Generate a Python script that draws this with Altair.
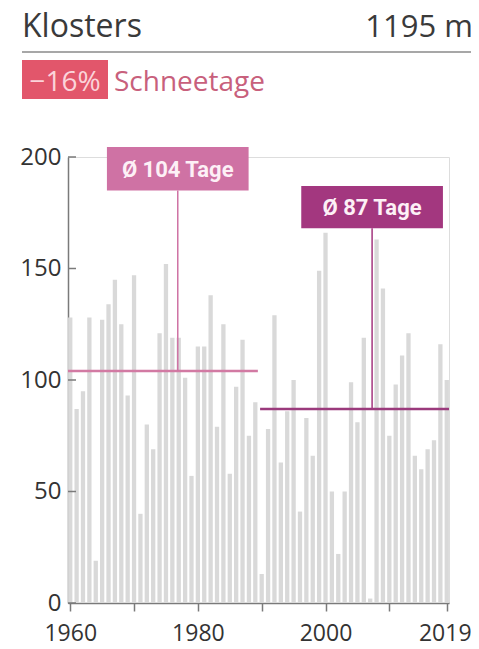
import altair as alt
import pandas as pd

# ---- data ----
years = list(range(1960, 2020))
snow_days = [128, 87, 95, 128, 19, 127, 134, 145, 125, 93,
             147, 40, 80, 69, 121, 152, 119, 119, 101, 57,
             115, 115, 138, 79, 125, 58, 97, 118, 75, 90,
             13, 78, 129, 63, 86, 100, 41, 83, 66, 149,
             166, 50, 22, 50, 99, 81, 119, 2, 163, 141,
             75, 98, 111, 121, 66, 60, 69, 73, 116, 100]

period_start = [1959.65, 1989.75]
period_end = [1989.4, 2019.35]
period_mean = [104, 87]
period_label = ["Ø 104 Tage", "Ø 87 Tage"]
label_year = [1976.85, 2007.3]
label_half_width = [11.1, 11.1]
box_bottom = [185.0, 168.0]
box_top = [204.5, 187.0]
period_color = ["#cf72a4", "#a3377f"]
line_color = ["#d27aa3", "#9a3a7c"]

y_ticks = [0, 50, 100, 150, 200]
x_ticks = [1960, 1970, 1980, 1990, 2000, 2010, 2019]
x_labels = [1960, 1980, 2000, 2019]

title_left = "Klosters"
title_right = "1195 m"
change_text = "−16%"
change_label = "Schneetage"

# ---- tables ----
bars = pd.DataFrame({"year": years, "days": snow_days})
periods = pd.DataFrame({
    "start": period_start, "end": period_end, "mean": period_mean,
    "label": period_label, "ly": label_year,
    "bl": [c - h for c, h in zip(label_year, label_half_width)],
    "br": [c + h for c, h in zip(label_year, label_half_width)],
    "bb": box_bottom, "bt": box_top,
    "bm": [(b + t) / 2 for b, t in zip(box_bottom, box_top)],
    "color": period_color, "lcolor": line_color,
})
ticks_df = pd.DataFrame({"v": y_ticks})
one = pd.DataFrame({"a": [0]})

FONT = "Open Sans"
xscale = alt.Scale(domain=[1959.65, 2019.35], nice=False, zero=False, padding=0)
yscale = alt.Scale(domain=[0, 200], nice=False, padding=0)

labels_expr = "indexof(" + str(x_labels) + ", datum.value) >= 0 ? datum.label : ''"

bar_layer = alt.Chart(bars).mark_bar(color="#d9d9d9", size=4.3).encode(
    x=alt.X("year:Q", scale=xscale,
            axis=alt.Axis(values=x_ticks, format="d", labelExpr=labels_expr,
                          title=None, grid=False, tickSize=8, tickWidth=1.5,
                          tickColor="#7a7a7a", domainColor="#7a7a7a", domainWidth=1.5,
                          labelFontSize=23, labelColor="#333333", labelPadding=11,
                          labelFont=FONT, labelFlush=False,
                          labelOffset={"condition": {"test": "datum.value == 2019", "value": -2},
                                       "value": 0})),
    y=alt.Y("days:Q", scale=yscale,
            axis=alt.Axis(values=y_ticks, title=None, grid=False, tickSize=0,
                          domainColor="#7a7a7a", domainWidth=1.5,
                          labelFontSize=24, labelColor="#333333", labelPadding=7,
                          labelFont=FONT)),
)

ytick_layer = alt.Chart(ticks_df).mark_rule(color="#7a7a7a", strokeWidth=1.5).encode(
    y=alt.Y("v:Q", scale=yscale), x=alt.value(0), x2=alt.value(8)
)

mean_layer = alt.Chart(periods).mark_rule(strokeWidth=2.5).encode(
    x=alt.X("start:Q", scale=xscale), x2="end:Q",
    y=alt.Y("mean:Q", scale=yscale),
    color=alt.Color("lcolor:N", scale=None),
)

connector_layer = alt.Chart(periods).mark_rule(strokeWidth=1.5).encode(
    x=alt.X("ly:Q", scale=xscale),
    y=alt.Y("bb:Q", scale=yscale), y2="mean:Q",
    color=alt.Color("color:N", scale=None),
)

box_layer = alt.Chart(periods).mark_rect().encode(
    x=alt.X("bl:Q", scale=xscale), x2="br:Q",
    y=alt.Y("bb:Q", scale=yscale), y2="bt:Q",
    color=alt.Color("color:N", scale=None),
)

box_text = alt.Chart(periods).mark_text(
    font="Roboto", fontWeight="bold", fontSize=22,
    color="#fdf0f6", align="center", baseline="middle", dy=1
).encode(
    x=alt.X("ly:Q", scale=xscale), y=alt.Y("bm:Q", scale=yscale), text="label:N"
)

# header
head_left = alt.Chart(one).mark_text(font=FONT, fontSize=32, color="#3a3a3a",
                                      align="left", baseline="alphabetic").encode(
    x=alt.value(-46), y=alt.value(-120), text=alt.value(title_left))
head_right = alt.Chart(one).mark_text(font=FONT, fontSize=31, color="#3a3a3a",
                                       align="right", baseline="alphabetic").encode(
    x=alt.value(405), y=alt.value(-120), text=alt.value(title_right))
head_rule = alt.Chart(one).mark_rule(color="#8a8a8a", strokeWidth=1.5).encode(
    x=alt.value(-46), x2=alt.value(405), y=alt.value(-105))
change_box = alt.Chart(one).mark_rect(color="#e2566b").encode(
    x=alt.value(-46), x2=alt.value(40), y=alt.value(-97), y2=alt.value(-58))
change_txt = alt.Chart(one).mark_text(font=FONT, fontSize=28, color="#fbd3da",
                                       align="center", baseline="alphabetic").encode(
    x=alt.value(-3), y=alt.value(-66), text=alt.value(change_text))
change_lbl = alt.Chart(one).mark_text(font=FONT, fontSize=28, color="#c8607c",
                                       align="left", baseline="alphabetic").encode(
    x=alt.value(46), y=alt.value(-66), text=alt.value(change_label))

chart = alt.layer(
    bar_layer, ytick_layer, mean_layer, connector_layer, box_layer, box_text,
    head_left, head_right, head_rule, change_box, change_txt, change_lbl
).properties(
    width=381, height=446,
    padding={"left": 60, "top": 149, "right": 22, "bottom": 38},
    autosize=alt.AutoSizeParams(type="none"),
).configure_view(stroke=None).configure(background="white")

chart.save("out.html", embed_options={"renderer": "svg", "actions": False})
